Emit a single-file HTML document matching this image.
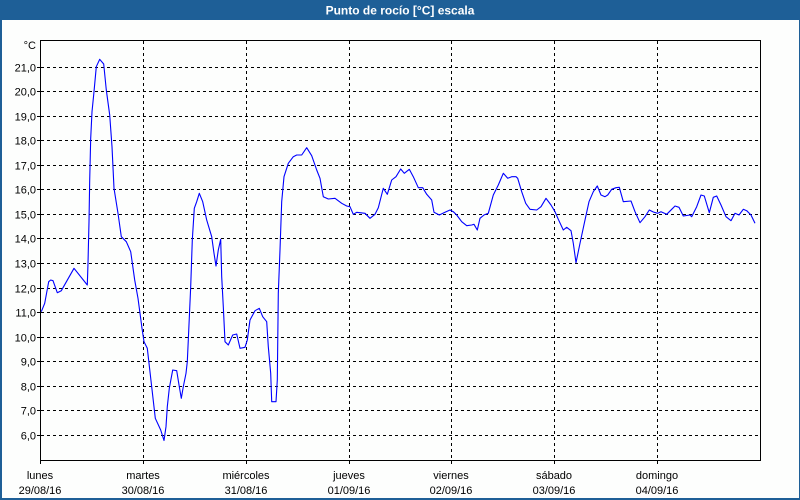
<!DOCTYPE html>
<html>
<head>
<meta charset="utf-8">
<style>
html,body{margin:0;padding:0;background:#fdfefd;}
body{width:800px;height:500px;overflow:hidden;position:relative;font-family:"Liberation Sans",Arial,sans-serif;}
svg{position:absolute;left:0;top:0;}
</style>
</head>
<body>
<svg width="800" height="500" viewBox="0 0 800 500" xmlns="http://www.w3.org/2000/svg">
  <rect x="0" y="0" width="800" height="500" fill="#fdfefd"/>
  <!-- frame -->
  <rect x="0" y="0" width="800" height="20" fill="#1e5f97"/>
  <rect x="0" y="0" width="2" height="500" fill="#1e5f97"/>
  <rect x="799" y="0" width="1" height="500" fill="#1e5f97"/>
  <rect x="0" y="498" width="800" height="2" fill="#1e5f97"/>
  <text x="400" y="14.5" text-anchor="middle" font-family="Liberation Sans, Arial, sans-serif" font-size="12" font-weight="bold" fill="#ffffff">Punto de rocío [°C] escala</text>

  <!-- grid -->
  <g stroke="#000" stroke-width="1" stroke-dasharray="3,3" fill="none">
    <line x1="41" y1="67.5" x2="760" y2="67.5"/>
    <line x1="41" y1="91.5" x2="760" y2="91.5"/>
    <line x1="41" y1="116.5" x2="760" y2="116.5"/>
    <line x1="41" y1="140.5" x2="760" y2="140.5"/>
    <line x1="41" y1="165.5" x2="760" y2="165.5"/>
    <line x1="41" y1="189.5" x2="760" y2="189.5"/>
    <line x1="41" y1="214.5" x2="760" y2="214.5"/>
    <line x1="41" y1="238.5" x2="760" y2="238.5"/>
    <line x1="41" y1="263.5" x2="760" y2="263.5"/>
    <line x1="41" y1="288.5" x2="760" y2="288.5"/>
    <line x1="41" y1="312.5" x2="760" y2="312.5"/>
    <line x1="41" y1="337.5" x2="760" y2="337.5"/>
    <line x1="41" y1="361.5" x2="760" y2="361.5"/>
    <line x1="41" y1="386.5" x2="760" y2="386.5"/>
    <line x1="41" y1="410.5" x2="760" y2="410.5"/>
    <line x1="41" y1="435.5" x2="760" y2="435.5"/>
    <line x1="143.5" y1="41" x2="143.5" y2="465"/>
    <line x1="246.5" y1="41" x2="246.5" y2="465"/>
    <line x1="349.5" y1="41" x2="349.5" y2="465"/>
    <line x1="451.5" y1="41" x2="451.5" y2="465"/>
    <line x1="554.5" y1="41" x2="554.5" y2="465"/>
    <line x1="657.5" y1="41" x2="657.5" y2="465"/>
  </g>
  <!-- small ticks -->
  <g stroke="#000" stroke-width="1">
    <line x1="37" y1="67.5" x2="40" y2="67.5"/>
    <line x1="37" y1="91.5" x2="40" y2="91.5"/>
    <line x1="37" y1="116.5" x2="40" y2="116.5"/>
    <line x1="37" y1="140.5" x2="40" y2="140.5"/>
    <line x1="37" y1="165.5" x2="40" y2="165.5"/>
    <line x1="37" y1="189.5" x2="40" y2="189.5"/>
    <line x1="37" y1="214.5" x2="40" y2="214.5"/>
    <line x1="37" y1="238.5" x2="40" y2="238.5"/>
    <line x1="37" y1="263.5" x2="40" y2="263.5"/>
    <line x1="37" y1="288.5" x2="40" y2="288.5"/>
    <line x1="37" y1="312.5" x2="40" y2="312.5"/>
    <line x1="37" y1="337.5" x2="40" y2="337.5"/>
    <line x1="37" y1="361.5" x2="40" y2="361.5"/>
    <line x1="37" y1="386.5" x2="40" y2="386.5"/>
    <line x1="37" y1="410.5" x2="40" y2="410.5"/>
    <line x1="37" y1="435.5" x2="40" y2="435.5"/>
    <line x1="40.5" y1="460" x2="40.5" y2="464"/>
  </g>
  <!-- plot box -->
  <rect x="40.5" y="40.5" width="720" height="420" fill="none" stroke="#000" stroke-width="1"/>

  <!-- y labels -->
  <g font-family="Liberation Sans, Arial, sans-serif" font-size="11" fill="#000" text-anchor="end">
    <text x="36" y="49">°C</text>
    <text x="36" y="71.5">21,0</text>
    <text x="36" y="95.5">20,0</text>
    <text x="36" y="120.5">19,0</text>
    <text x="36" y="144.5">18,0</text>
    <text x="36" y="169.5">17,0</text>
    <text x="36" y="193.5">16,0</text>
    <text x="36" y="218.5">15,0</text>
    <text x="36" y="242.5">14,0</text>
    <text x="36" y="267.5">13,0</text>
    <text x="36" y="292.5">12,0</text>
    <text x="36" y="316.5">11,0</text>
    <text x="36" y="341.5">10,0</text>
    <text x="36" y="365.5">9,0</text>
    <text x="36" y="390.5">8,0</text>
    <text x="36" y="414.5">7,0</text>
    <text x="36" y="439.5">6,0</text>
  </g>
  <!-- x labels -->
  <g font-family="Liberation Sans, Arial, sans-serif" font-size="11" fill="#000" text-anchor="middle">
    <text x="40" y="479">lunes</text>
    <text x="40" y="494">29/08/16</text>
    <text x="143" y="479">martes</text>
    <text x="143" y="494">30/08/16</text>
    <text x="246" y="479">miércoles</text>
    <text x="246" y="494">31/08/16</text>
    <text x="349" y="479">jueves</text>
    <text x="349" y="494">01/09/16</text>
    <text x="451" y="479">viernes</text>
    <text x="451" y="494">02/09/16</text>
    <text x="554" y="479">sábado</text>
    <text x="554" y="494">03/09/16</text>
    <text x="657" y="479">domingo</text>
    <text x="657" y="494">04/09/16</text>
  </g>

  <!-- series -->
  <polyline fill="none" stroke="#0000ff" stroke-width="1.1" stroke-linejoin="round" points="
41.3,311.7 44.7,303.3 48.7,281.7 50.7,280 53,280.7 57.3,292.7 61.3,290.7 74,268.3 87.3,285 88,263.3 89,221.7 89.7,180 90.7,138.3 92,111.7 94,91.7 96.3,66.7 99.7,59.3 103.7,64 106.3,90 109.7,115 112,146.7 114,188.3 118,213.3 121.3,236.7 126.3,241.7 130.7,251.7 134.7,280 138,298.3 142,328.3 144,341.7 147.3,348.3 151.3,383.3 155.3,418.3 160.7,430 164,440.5
166,426.7 167.3,406.7 169.3,388.3 172.7,370 176.7,370.7 179.3,386.7 181.3,398.3 183.3,386.7 186,373.3 187.3,361.7 188.3,340 190.7,286.7 192.3,240 194.3,208.3 196.7,201.7 199.3,193.3 202.7,201.7 206.7,220 211.7,236.7 214,253.3 216,266 218.3,250 220.7,239.3 221.7,276.7 223.3,306.7 225,341.7 228.3,345 232.7,335 236.7,334 240,348.3 245,347.3 247.3,340 250,320 255,310.7 259.3,308.3 262.7,316.7 266.7,321.7 268.3,346.7 270.7,373.3 271.7,401.7 276,401.7 277.3,380 278.3,293.3 280,250
281.7,201.7 284,176.7 288.3,163.3 293.3,156.7 296.7,155 301.7,155 306.7,147.7 311.7,155.7 316.7,170 320,178.3 323.3,196.7 328.3,199 335,198.3 341.7,203.3 346.7,206 350,206.7 353.3,214.3 356.7,212.3 365,213.3 370,218.3 375,214.3 378.3,207.7 383.3,188.3 387.3,194.3 391.7,180 396,176.7 400.7,169 404.3,173.3 409.3,169.3 413.3,176.7 418.3,187.7 422.7,187.7 426.7,194.3 431.7,200 434,212.3 439.3,215 445,212.3 450,210 453.3,211.7 456.7,215 461.7,221.7 466.7,225.7 471.7,225 474,224.3 477.3,230 480,218.3 484,215 488.3,213.3 493.3,195 498.3,185 503.3,173.3 507.7,178.3 511.7,176.7 516,176.7
517.7,178.3 521.7,191.7 525.7,203.3 530,209.3 536.7,210 541,206.7 546,198.3 551,205 555,211.7 558.3,219.3 563.3,230 566.7,227.3 571,230.7 573.3,243.3 576,262.7 580,243.3 585,220 589,201.7 593.3,191.7 597.3,186 601,195 605,196.7 607.7,195 611.7,189.3 616,187.7 619.3,187.3 623.3,201.7 631,201 635,211.7 640,222.7 645,216.7 649.3,210 653.3,212 657.7,213.3 661,211.7 666.7,214.3 671.7,209.3 675,206 679,207.3 683.3,216 690,215 691.7,216.7 696.7,206.7 701,195 704.3,196 709.3,212.7 713.3,197.3 716.7,196 721,205 726,216.7 731,220.7 735,213.3 739,215 743.3,209.3 746.7,210.7 751,215 755,223.3"/>
</svg>
</body>
</html>
